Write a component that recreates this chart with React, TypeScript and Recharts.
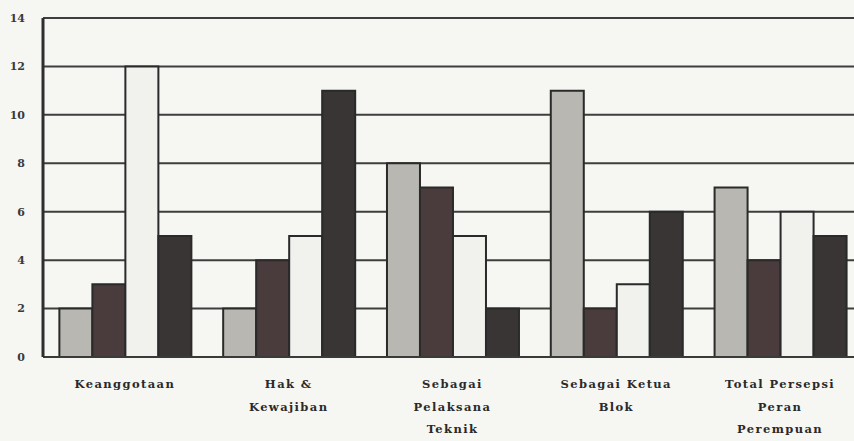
import { Bar, BarChart, CartesianGrid, XAxis, YAxis } from "recharts";

const categories = [
  ["Keanggotaan"],
  ["Hak &", "Kewajiban"],
  ["Sebagai", "Pelaksana", "Teknik"],
  ["Sebagai Ketua", "Blok"],
  ["Total Persepsi", "Peran", "Perempuan"],
];
const series1 = [2, 2, 8, 11, 7];
const series2 = [3, 4, 7, 2, 4];
const series3 = [12, 5, 5, 3, 6];
const series4 = [5, 11, 2, 6, 5];
const yTicks = [0, 2, 4, 6, 8, 10, 12, 14];

const data = categories.map((lines, i) => ({
  name: lines.join(" "),
  lines,
  s1: series1[i],
  s2: series2[i],
  s3: series3[i],
  s4: series4[i],
}));

const font = "'DejaVu Serif', serif";

function CategoryTick(props: any) {
  const { x, y, payload } = props;
  const lines = categories[payload.index] ?? [payload.value];
  return (
    <g transform={`translate(${x},${y})`}>
      {lines.map((line: string, i: number) => (
        <text
          key={i}
          x={0}
          y={23 + i * 22.5}
          textAnchor="middle"
          fontFamily={font}
          fontWeight="bold"
          fontSize={11.5}
          letterSpacing={1.4}
          fill="#2a2a2a"
        >
          {line}
        </text>
      ))}
    </g>
  );
}

export default function App() {
  return (
    <div
      style={{
        position: "absolute",
        top: 0,
        left: 0,
        width: 854,
        height: 441,
        overflow: "hidden",
        background: "#f6f6f2",
      }}
    >
      <BarChart
        width={862}
        height={441}
        data={data}
        margin={{ top: 18, right: 0, bottom: 0, left: 0 }}
        barCategoryGap="10%"
        barGap={0}
      >
        <CartesianGrid vertical={false} stroke="#3e3e3e" strokeWidth={2} />
        <XAxis
          dataKey="name"
          height={84}
          axisLine={{ stroke: "#3a3a3a", strokeWidth: 2 }}
          tickLine={false}
          tick={<CategoryTick />}
          interval={0}
        />
        <YAxis
          width={43}
          domain={[0, 14]}
          ticks={yTicks}
          axisLine={{ stroke: "#2e2e2e", strokeWidth: 3 }}
          tickLine={false}
          tickMargin={12}
          tick={{ fontFamily: font, fontSize: 11, fill: "#3a3a3a", fontWeight: "bold" }}
        />
        <Bar dataKey="s1" fill="#b9b7b2" stroke="#2a2a2a" strokeWidth={2} isAnimationActive={false} />
        <Bar dataKey="s2" fill="#4a3b3c" stroke="#2a2a2a" strokeWidth={2} isAnimationActive={false} />
        <Bar dataKey="s3" fill="#f1f1ee" stroke="#2a2a2a" strokeWidth={2} isAnimationActive={false} />
        <Bar dataKey="s4" fill="#383534" stroke="#2a2a2a" strokeWidth={2} isAnimationActive={false} />
      </BarChart>
    </div>
  );
}
